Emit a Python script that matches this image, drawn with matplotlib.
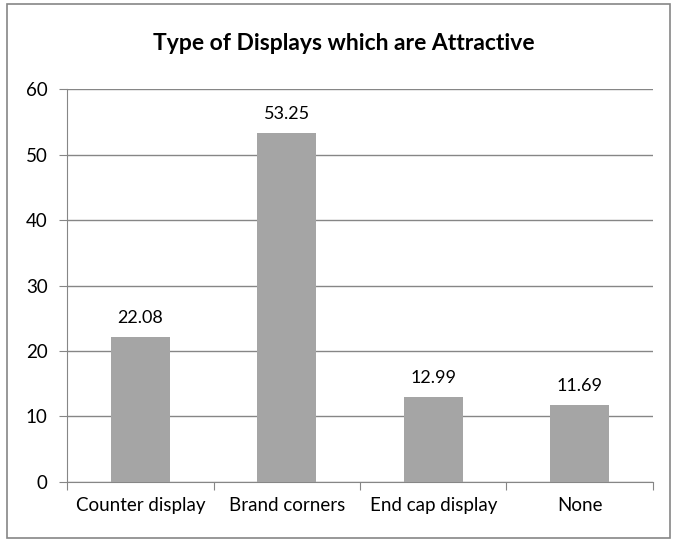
import matplotlib.pyplot as plt
from matplotlib.patches import Rectangle

plt.rcParams['font.family'] = ['Lato', 'DejaVu Sans']

categories = ['Counter display', 'Brand corners', 'End cap display', 'None']
values = [22.08, 53.25, 12.99, 11.69]
labels = ['22.08', '53.25', '12.99', '11.69']

fig = plt.figure(figsize=(6.75, 5.39), dpi=100)
ax = fig.add_axes([0.0993, 0.1058, 0.868, 0.729])

x = range(len(categories))
ax.bar(x, values, width=0.4, color='#a5a5a5', zorder=3)

for xi, v, lab in zip(x, values, labels):
    ax.annotate(lab, (xi, v), xytext=(0, 8), textcoords='offset points',
                ha='center', va='bottom', fontsize=13, color='black')

ax.set_xlim(-0.5, len(categories) - 0.5)
ax.set_ylim(0, 60)
ax.set_yticks(range(0, 61, 10))
ax.yaxis.grid(True, color='#868686', linewidth=1, zorder=0)

# category ticks sit between the bars
ax.set_xticks([i - 0.5 for i in range(len(categories) + 1)])
ax.set_xticklabels([])
ax.set_xticks(list(x), minor=True)
ax.set_xticklabels(categories, minor=True, fontsize=13.5)
ax.tick_params(axis='x', which='minor', length=0, pad=11)
ax.tick_params(axis='x', which='major', length=6, color='#868686', direction='out')
ax.tick_params(axis='y', length=6, color='#868686', labelsize=13.5, pad=8)

for side in ['top', 'right']:
    ax.spines[side].set_visible(False)
ax.spines['left'].set_color('#868686')
ax.spines['bottom'].set_color('#868686')

fig.text(0.51, 0.92, 'Type of Displays which are Attractive', ha='center',
         va='center', fontsize=16.5, fontweight='bold')

# outer chart frame
fig.patches.append(Rectangle((7 / 675, 1 / 539), 663 / 675, 534 / 539,
                             transform=fig.transFigure, fill=False,
                             edgecolor='#868686', linewidth=1.2))

fig.savefig('out.png', dpi=100)
